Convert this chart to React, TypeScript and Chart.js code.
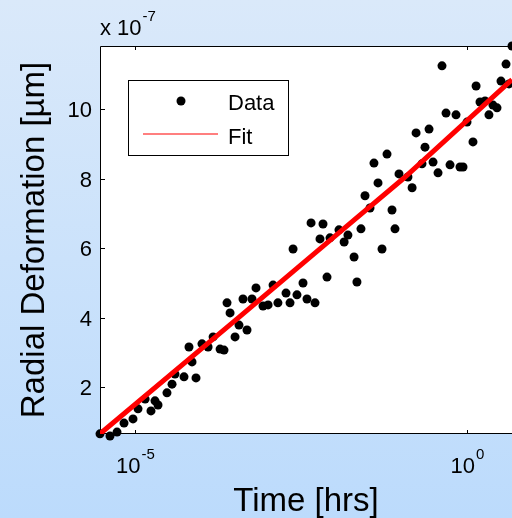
import { useEffect, useRef } from "react";
import { Chart, registerables } from "chart.js";

Chart.register(...registerables);

// Measured radial deformation (in units of 1e-7 µm) against time in hours
const hours = [
  2.97e-6, 4.2e-6, 5.36e-6, 6.83e-6, 9.33e-6, 1.11e-5, 1.42e-5, 1.74e-5, 2.22e-5, 2.0e-5,
  3.03e-5, 3.61e-5, 4.0e-5, 5.47e-5, 6.5e-5, 7.22e-5, 8.29e-5, 1.02e-4, 1.26e-4, 1.5e-4,
  1.91e-4, 2.19e-4, 2.43e-4, 2.7e-4, 3.21e-4, 3.68e-4, 4.86e-4, 4.23e-4, 5.78e-4, 6.64e-4,
  8.47e-4, 1.01e-3, 1.2e-3, 1.42e-3, 1.88e-3, 2.16e-3, 2.75e-3, 2.4e-3, 3.39e-3, 3.89e-3,
  5.14e-3, 4.48e-3, 6.78e-3, 6.11e-3, 8.65e-3, 7.79e-3, 1.18e-2, 1.41e-2, 1.61e-2, 1.99e-2,
  2.2e-2, 2.53e-2, 2.91e-2, 3.46e-2, 3.97e-2, 4.57e-2, 6.24e-2, 5.25e-2, 7.42e-2, 8.23e-2,
  9.46e-2, 0.129, 0.149, 0.171, 0.21, 0.233, 0.268, 0.308, 0.366, 0.42,
  0.483, 0.555, 0.683, 0.785, 0.871, 1.0, 1.23, 1.37, 1.57, 1.87,
  2.14, 2.46, 2.83, 3.25, 3.87, 4.29, 4.76,
];
const deformation = [
  0.66, 0.6, 0.71, 0.97, 1.09, 1.38, 1.66, 1.32, 1.49, 1.61,
  1.84, 2.09, 2.38, 2.3, 3.16, 2.73, 2.27, 3.25, 3.16, 3.45,
  3.1, 3.07, 4.43, 4.14, 3.45, 3.79, 3.65, 4.54, 4.54, 4.86,
  4.34, 4.37, 4.94, 4.43, 4.71, 4.43, 4.66, 5.98, 5.0, 4.54,
  4.43, 6.73, 6.7, 6.27, 6.3, 5.17, 6.53, 6.18, 6.38, 5.75,
  5.03, 6.56, 7.51, 7.16, 8.45, 7.88, 8.71, 5.98, 7.1, 6.56,
  8.14, 8.05, 7.74, 9.32, 8.43, 8.91, 9.43, 8.48, 8.17, 11.25,
  9.89, 8.4, 9.84, 8.34, 8.34, 9.63, 9.06, 10.67, 10.21, 10.24,
  9.84, 10.12, 10.04, 10.81, 11.3, 10.73, 11.82,
];

// Fitted curve
const fitHours = [2.97e-6, 3.7e-4, 1.7e-2, 0.109, 4.76];
const fitDeformation = [0.66, 4.02, 6.7, 8.0, 10.85];

// Axis decorations
const xTickExponents = [-5, 0];
const yTicks = [2, 4, 6, 8, 10];
const yScaleExponent = -7;
const xTitle = "Time [hrs]";
const yTitle = "Radial Deformation [µm]";
const legendLabels = ["Data", "Fit"];

const FONT = "'Liberation Sans', Arial, sans-serif";

function drawPower(ctx: CanvasRenderingContext2D, x: number, baseline: number, exp: string, align: "center" | "left") {
  ctx.font = `22px ${FONT}`;
  const wBase = ctx.measureText("10").width;
  ctx.font = `15px ${FONT}`;
  const wExp = ctx.measureText(exp).width;
  const start = align === "center" ? x - (wBase + wExp) / 2 : x;
  ctx.textAlign = "left";
  ctx.textBaseline = "alphabetic";
  ctx.font = `22px ${FONT}`;
  ctx.fillText("10", start, baseline);
  ctx.font = `15px ${FONT}`;
  ctx.fillText(exp, start + wBase + 1, baseline - 14);
}

const axesPlugin = {
  id: "matlabAxes",
  beforeDraw(chart: any) {
    const { ctx, width, height, chartArea: a, scales } = chart;
    ctx.save();
    const g = ctx.createLinearGradient(0, 0, 0, height);
    g.addColorStop(0, "rgb(218,233,250)");
    g.addColorStop(1, "rgb(188,219,252)");
    ctx.fillStyle = g;
    ctx.fillRect(0, 0, width, height);
    ctx.fillStyle = "#ffffff";
    ctx.fillRect(a.left, a.top, a.right - a.left, a.bottom - a.top);

    // box lines
    ctx.strokeStyle = "#000";
    ctx.lineWidth = 1;
    ctx.beginPath();
    ctx.moveTo(a.right, a.top + 0.5);
    ctx.lineTo(a.left + 0.5, a.top + 0.5);
    ctx.lineTo(a.left + 0.5, a.bottom - 0.5);
    ctx.lineTo(a.right, a.bottom - 0.5);
    ctx.stroke();

    // inward ticks
    ctx.beginPath();
    for (const e of xTickExponents) {
      const px = Math.round(scales.x.getPixelForValue(Math.pow(10, e))) + 0.5;
      ctx.moveTo(px, a.top);
      ctx.lineTo(px, a.top + 4);
      ctx.moveTo(px, a.bottom);
      ctx.lineTo(px, a.bottom - 4);
    }
    for (const v of yTicks) {
      const py = Math.round(scales.y.getPixelForValue(v)) + 0.5;
      ctx.moveTo(a.left, py);
      ctx.lineTo(a.left + 5, py);
    }
    ctx.stroke();

    // tick labels
    ctx.fillStyle = "#000";
    for (const e of xTickExponents) {
      const px = scales.x.getPixelForValue(Math.pow(10, e));
      drawPower(ctx, px, 473, String(e), "center");
    }
    ctx.font = `22px ${FONT}`;
    ctx.textAlign = "right";
    ctx.textBaseline = "alphabetic";
    for (const v of yTicks) {
      const py = scales.y.getPixelForValue(v);
      ctx.fillText(String(v), 92, py + 8);
    }

    // exponent multiplier above the y axis
    ctx.font = `22px ${FONT}`;
    ctx.textAlign = "left";
    const wx = ctx.measureText("x ").width;
    ctx.fillText("x ", 100, 35);
    drawPower(ctx, 100 + wx, 35, String(yScaleExponent), "left");

    // axis titles
    ctx.font = `33px ${FONT}`;
    ctx.textAlign = "center";
    ctx.textBaseline = "alphabetic";
    ctx.fillText(xTitle, (a.left + a.right) / 2, 511);
    ctx.save();
    ctx.translate(44, (a.top + a.bottom) / 2);
    ctx.rotate(-Math.PI / 2);
    ctx.fillText(yTitle, 0, 0);
    ctx.restore();
    ctx.restore();
  },
  afterDraw(chart: any) {
    const { ctx } = chart;
    ctx.save();
    // legend box
    ctx.fillStyle = "#ffffff";
    ctx.fillRect(128, 80, 161, 76);
    ctx.strokeStyle = "#000";
    ctx.lineWidth = 1;
    ctx.strokeRect(128.5, 80.5, 160, 75);
    // data marker
    ctx.fillStyle = "#000";
    ctx.beginPath();
    ctx.arc(181, 101, 4.5, 0, Math.PI * 2);
    ctx.fill();
    // fit line sample
    ctx.strokeStyle = "#ff7f7f";
    ctx.lineWidth = 2;
    ctx.beginPath();
    ctx.moveTo(143, 134);
    ctx.lineTo(218, 134);
    ctx.stroke();
    ctx.fillStyle = "#000";
    ctx.font = `22px ${FONT}`;
    ctx.textAlign = "left";
    ctx.textBaseline = "alphabetic";
    ctx.fillText(legendLabels[0], 228, 110);
    ctx.fillText(legendLabels[1], 228, 144);
    ctx.restore();
  },
};

export default function App() {
  const ref = useRef<HTMLCanvasElement>(null);

  useEffect(() => {
    document.body.style.margin = "0";
    document.body.style.overflow = "hidden";
    const canvas = ref.current;
    if (!canvas) return;
    const chart = new Chart(canvas, {
      type: "scatter",
      data: {
        datasets: [
          {
            label: legendLabels[1],
            type: "line",
            data: fitHours.map((t, i) => ({ x: t, y: fitDeformation[i] })),
            borderColor: "#ff0000",
            borderWidth: 5,
            pointRadius: 0,
            tension: 0,
            fill: false,
            order: 0,
          },
          {
            label: legendLabels[0],
            data: hours.map((t, i) => ({ x: t, y: deformation[i] })),
            backgroundColor: "#000000",
            borderColor: "#000000",
            pointRadius: 4.5,
            borderWidth: 0,
            clip: false as any,
            order: 1,
          },
        ],
      },
      options: {
        animation: false,
        responsive: false,
        devicePixelRatio: 1,
        events: [],
        layout: { autoPadding: false, padding: { left: 100, top: 46, right: 0, bottom: 84 } },
        plugins: { legend: { display: false }, tooltip: { enabled: false } },
        scales: {
          x: { type: "logarithmic", display: false, min: 2.97e-6, max: 4.76 },
          y: { type: "linear", display: false, min: 0.656, max: 11.82 },
        },
      },
      plugins: [axesPlugin],
    });
    return () => chart.destroy();
  }, []);

  return <canvas ref={ref} width={512} height={518} style={{ display: "block", width: 512, height: 518 }} />;
}
